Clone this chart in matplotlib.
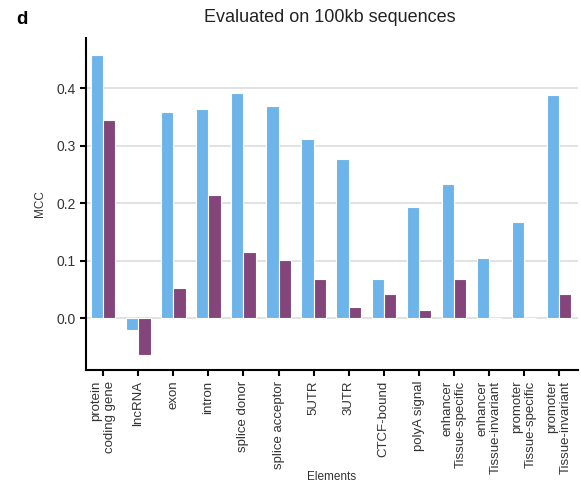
import matplotlib
matplotlib.use("Agg")
import matplotlib.pyplot as plt
import numpy as np

plt.rcParams['font.family'] = ['Liberation Sans', 'DejaVu Sans']

categories = ["protein\ncoding gene", "lncRNA", "exon", "intron", "splice donor",
              "splice acceptor", "5UTR", "3UTR", "CTCF-bound", "polyA signal",
              "enhancer\nTissue-specific", "enhancer\nTissue-invariant",
              "promoter\nTissue-specific", "promoter\nTissue-invariant"]
series_blue = [0.458, -0.021, 0.359, 0.364, 0.391, 0.369, 0.312, 0.276, 0.068,
               0.194, 0.234, 0.104, 0.168, 0.388]
series_purple = [0.345, -0.064, 0.053, 0.214, 0.115, 0.101, 0.068, 0.019, 0.043,
                 0.014, 0.068, 0.0, 0.001, 0.042]
yticks = [0.0, 0.1, 0.2, 0.3, 0.4]
ytick_labels = ["0.0", "0.1", "0.2", "0.3", "0.4"]

fig = plt.figure(figsize=(5.81, 4.87), dpi=100)
ax = fig.add_axes([0.148, 0.240, 0.847, 0.682])

x = np.arange(len(categories))
w = 0.35
ax.bar(x - w/2, series_blue, width=w, color='#6CB4E9', edgecolor='white', linewidth=0.8, zorder=3)
ax.bar(x + w/2, series_purple, width=w, color='#84457B', edgecolor='white', linewidth=0.8, zorder=3)

ax.set_xlim(-0.49, 13.54)
ax.set_ylim(-0.09, 0.487)
ax.set_yticks(yticks)
ax.set_yticklabels(ytick_labels)
ax.set_xticks(x)
ax.set_xticklabels(categories, rotation=90, multialignment='right')

ax.yaxis.grid(True, color='#dddddd', linewidth=1.2, zorder=0)
ax.set_axisbelow(True)
for s in ['top', 'right']:
    ax.spines[s].set_visible(False)
for s in ['left', 'bottom']:
    ax.spines[s].set_linewidth(1.5)
    ax.spines[s].set_color('black')
ax.tick_params(axis='both', direction='out', length=4, width=1.5, colors='black',
               labelcolor='#333333', labelsize=10)
ax.tick_params(axis='x', labelsize=9.5)

ax.set_ylabel("MCC", fontsize=8.5, color='#333333', labelpad=7)
fig.text(0.5714, 0.020, "Elements", ha='center', va='center', fontsize=8.5, color='#333333')
fig.text(0.568, 0.965, "Evaluated on 100kb sequences", ha='center', va='center',
         fontsize=13, color='#222222')
fig.text(0.038, 0.960, "d", ha='center', va='center', fontsize=13.5, fontweight='bold')

fig.savefig("out.png", dpi=100)
